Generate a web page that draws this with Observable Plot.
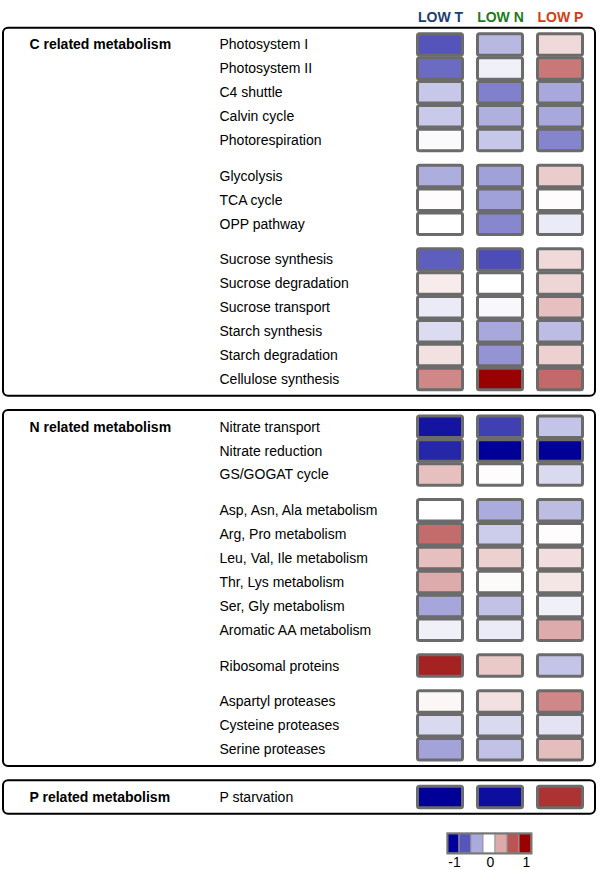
<!DOCTYPE html>
<html>
<head>
<meta charset="utf-8">
<script src="https://cdn.jsdelivr.net/npm/d3@7"></script>
<script src="https://cdn.jsdelivr.net/npm/@observablehq/plot@0.6"></script>
<style>
  body { margin: 0; background: #fff; }
  #chart svg { display: block; }
</style>
</head>
<body>
<div id="chart"></div>
<script>
// ---- data ----
const conditions = ["LOW T", "LOW N", "LOW P"];
const conditionColors = ["#1b3d72", "#1e7a1e", "#d63c10"];
const groups = ["C related metabolism", "N related metabolism", "P related metabolism"];

const cSubgroups = [
  ["Photosystem I", "Photosystem II", "C4 shuttle", "Calvin cycle", "Photorespiration"],
  ["Glycolysis", "TCA cycle", "OPP pathway"],
  ["Sucrose synthesis", "Sucrose degradation", "Sucrose transport", "Starch synthesis", "Starch degradation", "Cellulose synthesis"]
];
const nSubgroups = [
  ["Nitrate transport", "Nitrate reduction", "GS/GOGAT cycle"],
  ["Asp, Asn, Ala metabolism", "Arg, Pro metabolism", "Leu, Val, Ile metabolism", "Thr, Lys metabolism", "Ser, Gly metabolism", "Aromatic AA metabolism"],
  ["Ribosomal proteins"],
  ["Aspartyl proteases", "Cysteine proteases", "Serine proteases"]
];
const pSubgroups = [["P starvation"]];

// values in process order (C, then N, then P)
const lowT = [-0.67, -0.58, -0.22, -0.21, -0.02,
              -0.32, 0.01, 0.00,
              -0.63, 0.08, -0.08, -0.14, 0.12, 0.47,
              -0.92, -0.85, 0.25,
              0.00, 0.58, 0.25, 0.33, -0.35, -0.06,
              0.87,
              0.03, -0.15, -0.36,
              -1.00];
const lowN = [-0.28, -0.06, -0.50, -0.31, -0.22,
              -0.37, -0.37, -0.47,
              -0.70, 0.00, -0.03, -0.34, -0.42, 1.00,
              -0.75, -1.00, 0.01,
              -0.33, -0.20, 0.18, 0.02, -0.24, -0.08,
              0.21,
              0.12, -0.15, -0.24,
              -0.95];
const lowP = [0.15, 0.53, -0.34, -0.34, -0.48,
              0.20, 0.01, -0.08,
              0.15, 0.16, 0.25, -0.26, 0.18, 0.59,
              -0.23, -1.00, -0.15,
              -0.26, 0.01, 0.13, 0.10, -0.06, 0.33,
              -0.23,
              0.47, -0.11, 0.26,
              0.80];
const legendValues = [-1, -2/3, -1/3, 0, 1/3, 2/3, 1];
const legendTicks = [-1, 0, 1];

// ---- build rows (slot index computed from grouping) ----
const rows = [];
const boxes = [];
let slot = 0;
[cSubgroups, nSubgroups, pSubgroups].forEach((subs, gi) => {
  if (gi > 0) slot += 2;
  const first = slot;
  subs.forEach((sub, si) => {
    if (si > 0) slot += 1.5;
    sub.forEach((name, k) => {
      if (k > 0) slot += 1;
      rows.push({name, slot, group: groups[gi]});
    });
  });
  boxes.push({group: groups[gi], first, last: slot});
});
const series = [lowT, lowN, lowP];
const cells = [];
rows.forEach((r, i) => {
  conditions.forEach((c, j) => cells.push({name: r.name, slot: r.slot, cond: c, value: series[j][i]}));
});
const headers = conditions.map((c, j) => ({cond: c, color: conditionColors[j]}));

const colorScale = {type: "linear", domain: [-1, 0, 1], range: ["#000099", "#ffffff", "#990000"], interpolate: "rgb", clamp: true};
const font = "'Liberation Sans', Arial, sans-serif";

const main = Plot.plot({
  width: 600,
  height: 825,
  marginLeft: 3,
  marginRight: 5,
  marginTop: 0,
  marginBottom: 0,
  style: {fontFamily: font, background: "white"},
  x: {type: "band", domain: conditions, range: [410, 590], paddingInner: 0.2, paddingOuter: 0.1, axis: null},
  y: {type: "linear", domain: [0, 31.5], range: [44.5, 797], axis: null},
  color: colorScale,
  marks: [
    Plot.rect(boxes, {y1: d => d.first - 0.7, y2: d => d.last + 0.7, fill: "none", stroke: "#000", strokeWidth: 2, rx: 5}),
    Plot.barY(cells, {x: "cond", y1: d => d.slot - 0.45, y2: d => d.slot + 0.45, fill: "value", stroke: "#6b6b6b", strokeWidth: 3, insetLeft: 1.5, insetRight: 1.5, rx: 2}),
    Plot.text(rows, {y: "slot", text: "name", frameAnchor: "left", dx: 216, textAnchor: "start", fontSize: 14, fill: "#000"}),
    Plot.text(boxes, {y: "first", text: "group", frameAnchor: "left", dx: 26, textAnchor: "start", fontSize: 14, fontWeight: "bold", fill: "#000"}),
    Plot.text(headers, {x: "cond", text: "cond", frameAnchor: "top", dy: 12, fontSize: 14, fontWeight: "bold", fill: d => d.color})
  ]
});

const legend = Plot.plot({
  width: 600,
  height: 45,
  marginLeft: 447,
  marginRight: 69,
  marginTop: 8,
  marginBottom: 17,
  style: {fontFamily: font, background: "white", overflow: "visible"},
  x: {type: "band", domain: legendValues, padding: 0, axis: null},
  color: colorScale,
  marks: [
    Plot.cell(legendValues, {x: d => d, fill: d => d, stroke: "#999", strokeWidth: 1}),
    Plot.frame({stroke: "#777", strokeWidth: 2}),
    Plot.text(legendTicks, {x: d => d, text: d => String(d), frameAnchor: "bottom", dy: 13, dx: 1, fontSize: 14, fill: "#000"})
  ]
});

const root = document.getElementById("chart");
root.appendChild(main);
root.appendChild(legend);
</script>
</body>
</html>
